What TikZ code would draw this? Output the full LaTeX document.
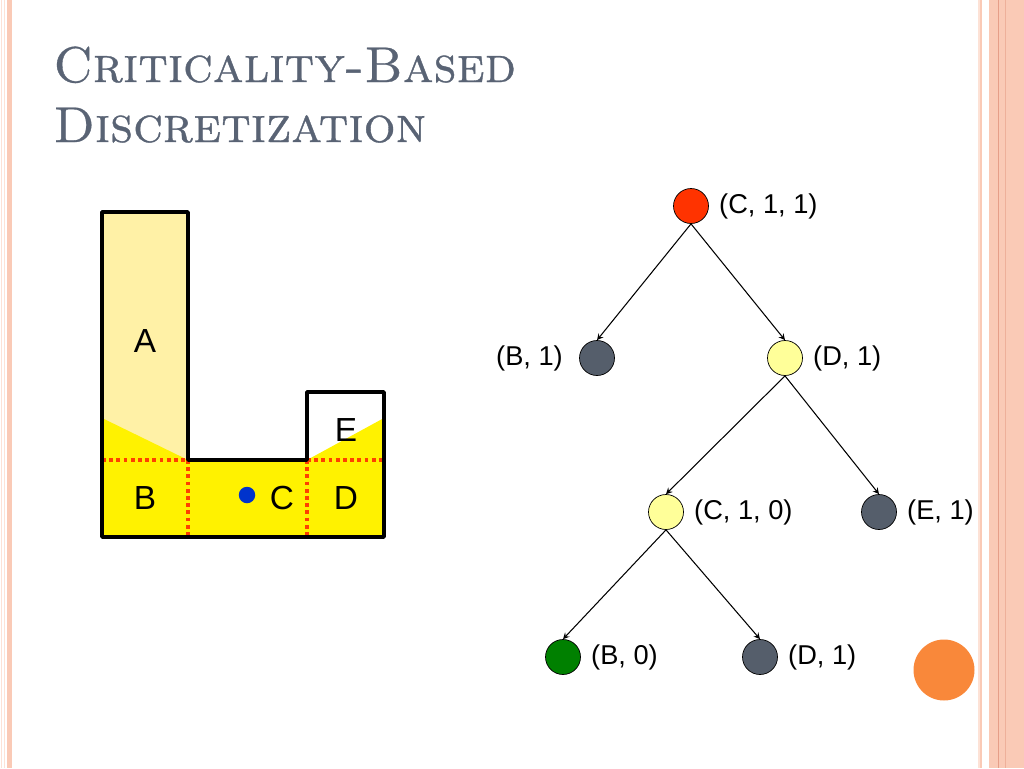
\documentclass[tikz,border=0pt]{standalone}
\usepackage{fontspec}
\newfontfamily\arialfont{Liberation Sans}
\newfontfamily\titlefont[FakeBold=0.7]{lmromancaps10-regular.otf}
\usepackage{xcolor}
\usepackage{tikz}
\usetikzlibrary{
  positioning,
  arrows.meta
}
\definecolor{titlegray}{RGB}{89,99,116}
\definecolor{bordpink}{RGB}{250,202,182}
\definecolor{bordpale}{RGB}{253,226,214}
\definecolor{bordline}{RGB}{230,158,136}
\definecolor{paleyellow}{RGB}{255,241,166}
\definecolor{nodered}{RGB}{255,51,0}
\definecolor{nodegray}{RGB}{85,94,107}
\definecolor{nodeyellow}{RGB}{255,255,153}
\definecolor{nodegreen}{RGB}{0,128,0}
\definecolor{dotblue}{RGB}{0,51,204}
\definecolor{dotred}{RGB}{255,64,0}
\definecolor{orangeball}{RGB}{249,136,58}

\begin{document}
\begin{tikzpicture}[x=0.02cm,y=-0.02cm,
  treenode/.style={circle,draw,thin,minimum size=0.7cm,inner sep=0pt},
  tlabel/.style={inner sep=0pt,font=\arialfont\fontsize{15.5}{18}\selectfont},
  region/.style={inner sep=0pt,font=\arialfont\fontsize{19}{22}\selectfont},
  treearrow/.style={->,>=stealth,semithick},
  cut/.style={dotred,line width=2.1pt,dash pattern=on 2.1pt off 2pt}]
  \useasboundingbox (0,0) rectangle (1024,768);
  % 枠
  \fill[bordpale] (1.5,0) rectangle (2.5,768);
  \fill[bordpale] (4,0) rectangle (5,768);
  \fill[bordpink] (7,0) rectangle (12,768);
  \fill[bordpale] (978,0) rectangle (980,768);
  \fill[bordpink] (980,0) rectangle (982,768);
  \fill[bordpink] (989,0) rectangle (1024,768);
  \fill[bordline] (998,0) rectangle (999,768);
  \fill[bordline!60!bordpink] (1005,0) rectangle (1006,768);
  % タイトル
  \node[anchor=base west,inner sep=0pt,text=titlegray,font=\titlefont\fontsize{28.6}{34}\selectfont] (title1) at (53,82) {Criticality-Based};
  \node[anchor=base west,inner sep=0pt,text=titlegray,font=\titlefont\fontsize{28.6}{34}\selectfont] (title2) at (53,142) {Discretization};
  % 領域
  \fill[paleyellow] (102,212) rectangle (188,460);
  \fill[yellow] (102,418) -- (188,460) -- (307,460) -- (384,418) -- (384,537) -- (102,537) -- cycle;
  \draw[cut] (102,460) -- (188,460);
  \draw[cut] (307,460) -- (384,460);
  \draw[cut] (188,460) -- (188,537);
  \draw[cut] (307,460) -- (307,537);
  \draw[line width=2pt,line join=round] (102,212) -- (188,212) -- (188,460) -- (307,460) -- (307,392) -- (384,392) -- (384,537) -- (102,537) -- cycle;
  \node[region] (ra) at (145,341) {A};
  \node[region] (rb) at (145,498) {B};
  \node[region] (rc) at (282,498) {C};
  \node[region] (rd) at (346,498) {D};
  \node[region] (re) at (346,430) {E};
  \node[circle,fill=dotblue,minimum size=0.33cm,inner sep=0pt] (cpt) at (247,495) {};
  % 木
  \node[treenode,fill=nodered] (n0) at (691,206) {};
  \node[treenode,fill=nodegray] (n1) at (597,358) {};
  \node[treenode,fill=nodeyellow] (n2) at (785,358) {};
  \node[treenode,fill=nodeyellow] (n3) at (666,512) {};
  \node[treenode,fill=nodegray] (n4) at (879,512) {};
  \node[treenode,fill=nodegreen] (n5) at (563,657) {};
  \node[treenode,fill=nodegray] (n6) at (760,657) {};
  \node[tlabel,right=0.2cm of n0] (l0) {(C, 1, 1)};
  \node[tlabel,left=0.32cm of n1] (l1) {(B, 1)};
  \node[tlabel,right=0.2cm of n2] (l2) {(D, 1)};
  \node[tlabel,right=0.2cm of n3] (l3) {(C, 1, 0)};
  \node[tlabel,right=0.2cm of n4] (l4) {(E, 1)};
  \node[tlabel,right=0.2cm of n5] (l5) {(B, 0)};
  \node[tlabel,right=0.2cm of n6] (l6) {(D, 1)};
  \draw[treearrow] (n0.south) -- (n1.north);
  \draw[treearrow] (n0.south) -- (n2.north);
  \draw[treearrow] (n2.south) -- (n3.north);
  \draw[treearrow] (n2.south) -- (n4.north);
  \draw[treearrow] (n3.south) -- (n5.north);
  \draw[treearrow] (n3.south) -- (n6.north);
  % 飾り
  \node[circle,fill=orangeball,minimum size=1.22cm,inner sep=0pt] (ball) at (944,670) {};
\end{tikzpicture}
\end{document}
